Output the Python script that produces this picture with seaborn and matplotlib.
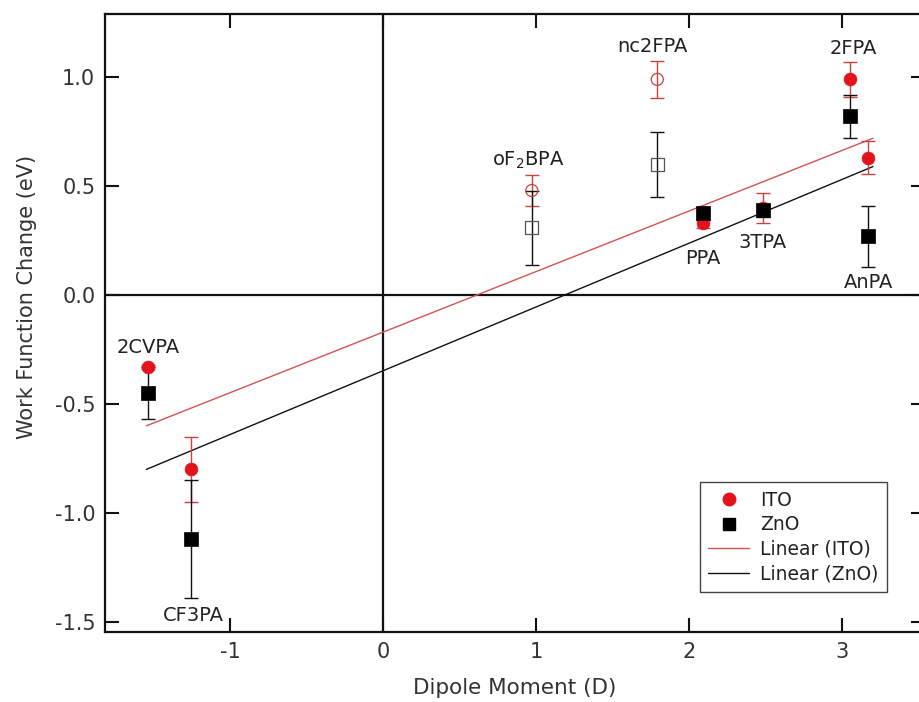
import numpy as np
import pandas as pd
import matplotlib
matplotlib.use("Agg")
import matplotlib.pyplot as plt
import seaborn as sns
from matplotlib.lines import Line2D

# ---------------- data ----------------
molecules = ["2CVPA", "CF3PA", "oF$_2$BPA", "nc2FPA", "PPA", "3TPA", "2FPA", "AnPA"]
dipole = [-1.54, -1.255, 0.97, 1.79, 2.09, 2.48, 3.05, 3.17]
ito_wf = [-0.33, -0.80, 0.48, 0.99, 0.33, 0.40, 0.99, 0.63]
ito_err = [0.01, 0.15, 0.07, 0.085, 0.02, 0.07, 0.08, 0.075]
zno_wf = [-0.45, -1.12, 0.31, 0.60, 0.375, 0.39, 0.82, 0.27]
zno_err = [0.12, 0.27, 0.17, 0.15, 0.03, 0.03, 0.10, 0.14]
is_open = [False, False, True, True, False, False, False, False]

label_x = [-1.54, -1.24, 0.95, 1.76, 2.09, 2.48, 3.07, 3.17]
label_y = [-0.24, -1.47, 0.62, 1.14, 0.17, 0.24, 1.13, 0.06]

fit_x = [-1.55, 3.20]
ito_fit = [-0.60, 0.72]
zno_fit = [-0.80, 0.59]

x_ticks = [-1, 0, 1, 2, 3]
y_ticks = [-1.5, -1.0, -0.5, 0.0, 0.5, 1.0]

RED = "#e3121b"
RED_ERR = "#c8423f"
RED_FIT = "#d25452"
BLACK = "#111111"

df = pd.DataFrame({"mol": molecules, "dipole": dipole, "ito": ito_wf, "ito_err": ito_err,
                   "zno": zno_wf, "zno_err": zno_err, "open": is_open})
fit_df = pd.DataFrame({"x": fit_x, "ito": ito_fit, "zno": zno_fit})

sns.set_style("ticks")
plt.rcParams["font.family"] = ["DejaVu Sans"]

fig = plt.figure(figsize=(9.2, 7.02), dpi=100)
ax = fig.add_axes([105 / 920, 70 / 702, 820 / 920, 618 / 702])

# zero lines
ax.axhline(0, color=BLACK, lw=1.6, zorder=1)
ax.axvline(0, color=BLACK, lw=1.6, zorder=1)

# fit lines
sns.lineplot(data=fit_df, x="x", y="ito", color=RED_FIT, lw=1.0, ax=ax, zorder=2)
sns.lineplot(data=fit_df, x="x", y="zno", color=BLACK, lw=1.0, ax=ax, zorder=2)

# error bars
ax.errorbar(df["dipole"], df["ito"], yerr=df["ito_err"], fmt="none", ecolor=RED_ERR,
            elinewidth=1.0, capsize=4.8, capthick=1.0, zorder=3)
ax.errorbar(df["dipole"], df["zno"], yerr=df["zno_err"], fmt="none", ecolor=BLACK,
            elinewidth=1.0, capsize=4.8, capthick=1.0, zorder=4)

filled = df[~df["open"]]
hollow = df[df["open"]]

sns.scatterplot(data=filled, x="dipole", y="ito", marker="o", s=85, color=RED,
                edgecolor=RED, linewidth=0.5, ax=ax, zorder=5)
sns.scatterplot(data=hollow, x="dipole", y="ito", marker="o", s=75, color=RED_ERR,
                edgecolor=RED_ERR, linewidth=0.9, ax=ax, zorder=5)
ax.collections[-1].set_facecolor("none")
sns.scatterplot(data=filled, x="dipole", y="zno", marker="s", s=95, color="black",
                edgecolor="black", linewidth=0.5, ax=ax, zorder=6)
sns.scatterplot(data=hollow, x="dipole", y="zno", marker="s", s=85, color="#555555",
                edgecolor="#555555", linewidth=0.9, ax=ax, zorder=6)
ax.collections[-1].set_facecolor("none")

# labels for molecules
for name, lx, ly in zip(molecules, label_x, label_y):
    ax.text(lx, ly, name, ha="center", va="center", fontsize=14, color="#222222", zorder=7)

ax.set_xlim(-1.82, 3.54)
ax.set_ylim(-1.546, 1.29)
ax.set_xticks(x_ticks)
ax.set_xticklabels([str(t) for t in x_ticks])
ax.set_yticks(y_ticks)
ax.set_yticklabels([f"{t:.1f}" for t in y_ticks])
ax.tick_params(direction="in", length=10, width=1.5, top=True, right=True,
               labelsize=15, pad=7, colors=BLACK, labelcolor="#333333")
for s in ax.spines.values():
    s.set_linewidth(1.6)
    s.set_color(BLACK)
    s.set_visible(True)

ax.set_xlabel("Dipole Moment (D)", fontsize=15.5, color="#333333", labelpad=12)
ax.set_ylabel("Work Function Change (eV)", fontsize=15, color="#333333")
ax.yaxis.set_label_coords(-0.083, 0.542)

handles = [
    Line2D([], [], marker="o", ls="none", color=RED, markersize=9),
    Line2D([], [], marker="s", ls="none", color="black", markersize=9),
    Line2D([], [], color=RED_FIT, lw=1.0),
    Line2D([], [], color=BLACK, lw=1.0),
]
leg = ax.legend(handles, ["ITO", "ZnO", "Linear (ITO)", "Linear (ZnO)"],
                loc="lower right", bbox_to_anchor=(0.954, 0.065), borderaxespad=0,
                fontsize=13.5, frameon=True, fancybox=False, edgecolor="#444444",
                framealpha=1, handlelength=2.2, borderpad=0.45, labelspacing=0.3,
                handletextpad=0.6)
leg.get_frame().set_linewidth(1.0)
for t in leg.get_texts():
    t.set_color("#222222")

fig.savefig("out.png", dpi=100)
